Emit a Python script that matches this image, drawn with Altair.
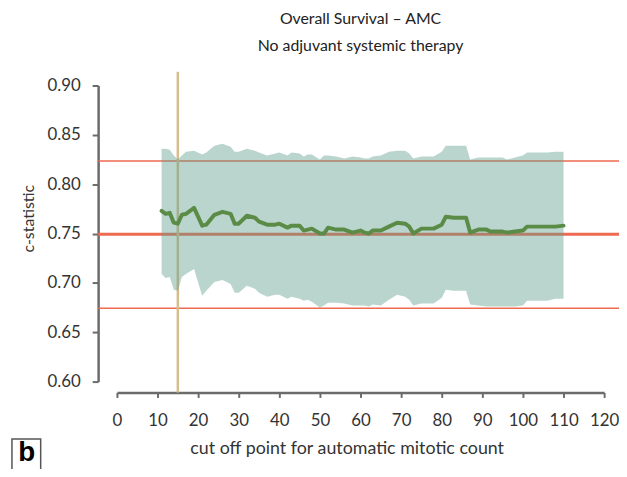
import altair as alt
import pandas as pd

# ---- data ----
cutoff = [11, 12, 13, 14, 15, 16, 17, 19, 21, 22, 24, 26, 28, 29, 30, 32, 34, 35, 37, 39,
          40, 42, 43, 45, 46, 47, 48, 50, 51, 52, 54, 56, 58, 60, 61, 62, 63, 65, 67, 69,
          71, 72, 73, 75, 78, 80, 81, 83, 86, 87, 89, 91, 92, 95, 96, 98, 100, 101, 106, 108, 110]
c_stat = [0.773, 0.770, 0.771, 0.761, 0.760, 0.769, 0.770, 0.776, 0.758, 0.759, 0.769, 0.772, 0.770, 0.760, 0.760, 0.768, 0.766, 0.762, 0.759, 0.759,
          0.760, 0.756, 0.758, 0.758, 0.753, 0.754, 0.755, 0.750, 0.750, 0.756, 0.754, 0.754, 0.751, 0.753, 0.751, 0.750, 0.753, 0.753, 0.757, 0.761,
          0.760, 0.757, 0.750, 0.755, 0.755, 0.759, 0.767, 0.766, 0.766, 0.751, 0.754, 0.754, 0.752, 0.752, 0.751, 0.752, 0.753, 0.757, 0.757, 0.757, 0.758]
ci_hi = [0.836, 0.836, 0.835, 0.829, 0.825, 0.829, 0.833, 0.834, 0.830, 0.832, 0.839, 0.841, 0.838, 0.833, 0.833, 0.836, 0.834, 0.832, 0.829, 0.831,
         0.832, 0.829, 0.832, 0.831, 0.828, 0.830, 0.830, 0.825, 0.829, 0.829, 0.828, 0.826, 0.828, 0.827, 0.826, 0.826, 0.828, 0.829, 0.833, 0.834,
         0.834, 0.831, 0.826, 0.828, 0.828, 0.833, 0.839, 0.839, 0.839, 0.825, 0.827, 0.827, 0.827, 0.827, 0.825, 0.827, 0.829, 0.832, 0.832, 0.833, 0.833]
ci_lo = [0.709, 0.705, 0.706, 0.693, 0.692, 0.706, 0.709, 0.714, 0.687, 0.692, 0.701, 0.703, 0.699, 0.690, 0.690, 0.697, 0.694, 0.690, 0.686, 0.688,
         0.688, 0.684, 0.686, 0.684, 0.682, 0.683, 0.681, 0.675, 0.677, 0.680, 0.680, 0.679, 0.677, 0.677, 0.677, 0.676, 0.678, 0.677, 0.683, 0.688,
         0.686, 0.683, 0.677, 0.679, 0.679, 0.685, 0.693, 0.692, 0.692, 0.678, 0.677, 0.676, 0.676, 0.676, 0.676, 0.676, 0.677, 0.682, 0.682, 0.684, 0.684]

ref_main = [0.7494]            # reference c-statistic
ref_ci = [0.6744, 0.8234]      # its confidence limits
chosen_cutoff = [15]

title_lines = ["Overall Survival \u2013 AMC", "No adjuvant systemic therapy"]
x_ticks = list(range(0, 121, 10))
y_ticks = [0.60, 0.65, 0.70, 0.75, 0.80, 0.85, 0.90]

df = pd.DataFrame({"cutoff": cutoff, "c": c_stat, "lo": ci_lo, "hi": ci_hi})
FONT = "Lato"
W, H = 492, 299

xs = alt.Scale(domain=[0, 120], nice=False, zero=False)
ys = alt.Scale(domain=[0.60, 0.90], nice=False, zero=False)

red = "#ee6a50"

thin = alt.Chart(pd.DataFrame({"v": ref_ci})).mark_rule(color=red, strokeWidth=1.5).encode(
    y=alt.Y("v:Q", scale=ys), x=alt.value(-19), x2=alt.value(W + 20))
thick = alt.Chart(pd.DataFrame({"v": ref_main})).mark_rule(color=red, strokeWidth=3).encode(
    y=alt.Y("v:Q", scale=ys), x=alt.value(-19), x2=alt.value(W + 20))
tan = alt.Chart(pd.DataFrame({"k": chosen_cutoff})).mark_rule(color="#d8bd8c", strokeWidth=2.5).encode(
    x=alt.X("k:Q", scale=xs), y=alt.value(-14), y2=alt.value(H + 11))

band = alt.Chart(df).mark_area(color="#5f9e8a", opacity=0.43).encode(
    x=alt.X("cutoff:Q", scale=xs,
            axis=alt.Axis(values=x_ticks, title="cut off point for automatic mitotic count",
                          offset=11, grid=False, tickSize=5, labelPadding=15, labelOverlap=False,
                          labelFlush=False,
                          domainColor="#6b6b6b", domainWidth=2.5, tickColor="#6b6b6b", tickWidth=2,
                          labelFont=FONT, labelFontSize=17, labelColor="#333",
                          titleFont=FONT, titleFontSize=18, titleFontWeight="normal", titleColor="#333",
                          titleX=232, titleY=62, titleBaseline="alphabetic")),
    y=alt.Y("hi:Q", scale=ys,
            axis=alt.Axis(values=y_ticks, format=".2f", title="c-statistic",
                          offset=19, grid=False, tickSize=6, labelPadding=12, labelOverlap=False,
                          domainColor="#6b6b6b", domainWidth=2.5, tickColor="#6b6b6b", tickWidth=2,
                          labelFont=FONT, labelFontSize=17, labelColor="#333",
                          titleFont=FONT, titleFontSize=16, titleFontWeight="normal", titleColor="#333",
                          titleX=-62, titleY=134, titleAngle=-90, titleBaseline="bottom", titleAlign="center")),
    y2="lo:Q")

line = alt.Chart(df).mark_line(color="#5b8c47", strokeWidth=4, strokeCap="round", strokeJoin="round").encode(
    x=alt.X("cutoff:Q", scale=xs), y=alt.Y("c:Q", scale=ys))

box = alt.Chart(pd.DataFrame({"t": ["b"]})).mark_rect(fill="white", stroke="#555", strokeWidth=1.5).encode(
    x=alt.value(-106), x2=alt.value(-77), y=alt.value(357), y2=alt.value(400))
label = alt.Chart(pd.DataFrame({"t": ["b"]})).mark_text(
    font="Liberation Sans", fontWeight="bold", fontSize=28, align="center", baseline="alphabetic", color="#000").encode(
    text="t:N", x=alt.value(-91), y=alt.value(379))

chart = alt.layer(thin, thick, tan, band, line, box, label).properties(
    width=W, height=H,
    autosize=alt.AutoSizeParams(type="none"),
    padding={"left": 110, "top": 76, "right": 15, "bottom": 86},
    title=alt.TitleParams(text=title_lines, font=FONT, fontSize=16, fontWeight="normal", color="#222",
                          anchor="middle", offset=17, lineHeight=27),
).configure_view(stroke=None)

chart.save("out.html", embed_options={"renderer": "svg", "actions": False})
